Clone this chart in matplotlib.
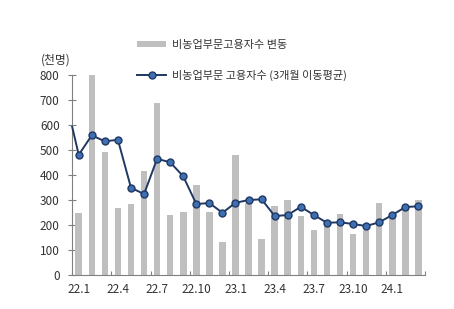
import numpy as np
import matplotlib
matplotlib.use("Agg")
import matplotlib.pyplot as plt

plt.rcParams['font.family'] = ['Noto Sans CJK KR', 'DejaVu Sans']

months = ['22.1','22.2','22.3','22.4','22.5','22.6','22.7','22.8','22.9','22.10','22.11','22.12',
          '23.1','23.2','23.3','23.4','23.5','23.6','23.7','23.8','23.9','23.10','23.11','23.12',
          '24.1','24.2','24.3']
bar_values = [250, 800, 493, 269, 284, 417, 689, 240, 252, 359, 253, 132,
              480, 290, 145, 276, 300, 237, 180, 210, 243, 165, 180, 287,
              240, 260, 300]
ma_prev = 593  # value at left edge (prior month, partially shown)
ma_values = [481, 559, 535, 541, 349, 324, 465, 451, 395, 284, 288, 249,
             289, 300, 303, 236, 240, 273, 240, 209, 211, 204, 196, 211,
             240, 272, 275]
tick_labels = ['22.1', '22.4', '22.7', '22.10', '23.1', '23.4', '23.7', '23.10', '24.1']

bar_label = '비농업부문고용자수 변동'
line_label = '비농업부문 고용자수 (3개월 이동평균)'

fig = plt.figure(figsize=(4.54, 3.09), dpi=100)
ax = fig.add_axes([0.159, 0.110, 0.777, 0.647])

x = np.arange(len(months))
bars = ax.bar(x, bar_values, width=0.5, color='#bfbfbf', zorder=2)

lx = np.concatenate([[-0.5], x])
ly = np.concatenate([[ma_prev], ma_values])
line, = ax.plot(lx, ly, color='#1f3864', lw=1.4, marker='o', markersize=5,
                markerfacecolor='#3e6fb0', markeredgecolor='#1f3864', markeredgewidth=1.0,
                markevery=list(range(1, len(lx))), zorder=3, clip_on=False)

ax.set_xlim(-0.5, len(months) - 0.5)
ax.set_ylim(0, 800)
ax.set_yticks(np.arange(0, 801, 100))
ax.tick_params(axis='y', direction='inout', length=6, width=0.8, color='#808080',
               labelsize=8.5, labelcolor='#333333', pad=6)

label_pos = [months.index(t) for t in tick_labels]
ax.set_xticks(label_pos)
ax.set_xticklabels(tick_labels)
ax.tick_params(axis='x', length=0, labelsize=8.5, labelcolor='#333333', pad=6)
ax.set_xticks(np.arange(-0.5, len(months), 3), minor=True)
ax.tick_params(axis='x', which='minor', direction='in', length=3, color='#808080', width=0.8)

for s in ['top', 'right']:
    ax.spines[s].set_visible(False)
for s in ['left', 'bottom']:
    ax.spines[s].set_color('#808080')
    ax.spines[s].set_linewidth(0.8)

fig.text(0.091, 0.785, '(천명)', fontsize=8.5, color='#333333', ha='left', va='bottom')

leg1 = fig.legend([bars], [bar_label], loc='center left', bbox_to_anchor=(0.29, 0.855),
                  frameon=False, fontsize=8, handlelength=2.6, handleheight=0.5,
                  borderpad=0, handletextpad=0.5)
for t in leg1.get_texts():
    t.set_color('#333333')
leg2 = fig.legend([line], [line_label], loc='center left', bbox_to_anchor=(0.29, 0.757),
                  frameon=False, fontsize=8, handlelength=2.6,
                  borderpad=0, handletextpad=0.5)
for t in leg2.get_texts():
    t.set_color('#333333')

fig.savefig('out.png', dpi=100, facecolor='white')
